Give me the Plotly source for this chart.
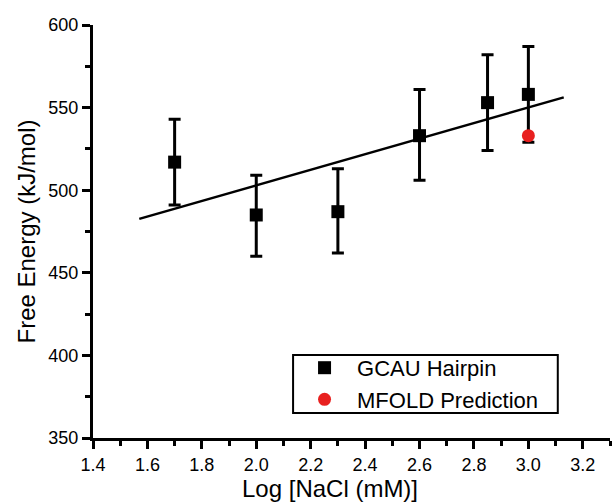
import numpy as np
import plotly.graph_objects as go

log_nacl = [1.7, 2.0, 2.3, 2.6, 2.85, 3.0]
free_energy = [517, 485, 487, 533, 553, 558]
err_plus = [26, 24, 26, 28, 29, 29]
err_minus = [26, 25, 25, 27, 29, 29]
mfold_x = [3.0]
mfold_y = [533]
fit_range = [1.57, 3.13]
x_ticks = [1.4, 1.6, 1.8, 2.0, 2.2, 2.4, 2.6, 2.8, 3.0, 3.2]
x_tick_labels = ["1.4", "1.6", "1.8", "2.0", "2.2", "2.4", "2.6", "2.8", "3.0", "3.2"]

slope, intercept = np.polyfit(log_nacl, free_energy, 1)
fit_y = [slope * v + intercept for v in fit_range]

fig = go.Figure()
fig.add_trace(go.Scatter(x=fit_range, y=fit_y, mode="lines",
                         line=dict(color="black", width=2.5), showlegend=False, hoverinfo="skip"))
fig.add_trace(go.Scatter(x=log_nacl, y=free_energy, mode="markers", name="GCAU Hairpin",
                         marker=dict(symbol="square", size=13, color="black"),
                         error_y=dict(type="data", array=err_plus, arrayminus=err_minus,
                                      color="black", thickness=3, width=6)))
fig.add_trace(go.Scatter(x=mfold_x, y=mfold_y, mode="markers", name="MFOLD Prediction",
                         marker=dict(symbol="circle", size=13, color="#e8201f")))

font = "Liberation Sans, Arial, Helvetica, sans-serif"
fig.update_layout(
    width=613, height=502,
    margin=dict(l=93, r=3, t=25, b=64),
    plot_bgcolor="white", paper_bgcolor="white",
    font=dict(family=font, color="black"),
    legend=dict(x=0.385, y=0.131, xanchor="left", yanchor="middle",
                borderwidth=0, bgcolor="rgba(0,0,0,0)",
                font=dict(size=22, family=font), tracegroupgap=0, itemwidth=55),
    shapes=[dict(type="rect", xref="paper", yref="paper", x0=0.387, x1=0.899, y0=0.0605, y1=0.201,
                 line=dict(color="black", width=2), fillcolor="rgba(0,0,0,0)", layer="above")],
    annotations=[dict(text="Log [NaCl (mM)]", xref="paper", yref="paper", x=0.458, y=-0.123,
                      xanchor="center", yanchor="middle", showarrow=False,
                      font=dict(size=24, family=font, color="black"))],
    xaxis=dict(range=[1.4, 3.3], tickmode="array", tickvals=x_ticks, ticktext=x_tick_labels,
               showline=True, linecolor="black", linewidth=3, ticks="outside", ticklen=8, tickwidth=3,
               tickcolor="black", showgrid=False, zeroline=False, tickfont=dict(size=18),
               minor=dict(dtick=0.1, tick0=1.4, ticks="outside", ticklen=5, tickwidth=3, tickcolor="black", showgrid=False)),
    yaxis=dict(range=[350, 600], tickmode="linear", tick0=350, dtick=50,
               showline=True, linecolor="black", linewidth=3, ticks="outside", ticklen=8, tickwidth=3,
               tickcolor="black", showgrid=False, zeroline=False, tickfont=dict(size=18),
               minor=dict(dtick=25, tick0=350, ticks="outside", ticklen=5, tickwidth=3, tickcolor="black", showgrid=False),
               title=dict(text="Free Energy (kJ/mol)", font=dict(size=24), standoff=6)),
)
fig.write_html("out.html", config={"displayModeBar": False},
               post_script="document.body.style.margin='0';")
